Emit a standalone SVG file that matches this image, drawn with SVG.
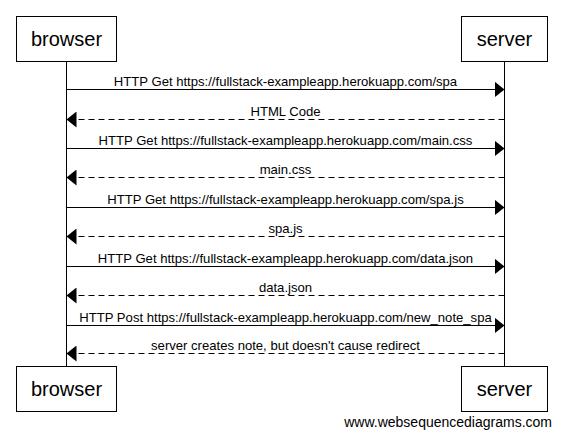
<svg xmlns="http://www.w3.org/2000/svg" width="562" height="436" viewBox="0 0 562 436">
<style>
.box{fill:#fff;stroke:#000;stroke-width:1}
.pt{font-family:"Liberation Sans",Arial,sans-serif;font-size:20px;text-anchor:middle;fill:#000}
.life{stroke:#000;stroke-width:1}
.msg{stroke:#000;stroke-width:1;fill:none}
.ret{stroke:#000;stroke-width:1;fill:none;stroke-dasharray:6 4}
.lbl{font-family:"Liberation Sans",Arial,sans-serif;font-size:13.1px;text-anchor:middle;fill:#000}
.foot{font-family:"Liberation Sans",Arial,sans-serif;font-size:14px;text-anchor:end;fill:#000}
</style>
<defs>
<marker id="ah" markerUnits="userSpaceOnUse" markerWidth="11" markerHeight="16" refX="10" refY="8" orient="auto">
<path d="M0,0 L10,8 L0,16 Z" fill="#000"/>
</marker>
</defs>
<rect width="562" height="436" fill="#fff"/>
<g id="lifelines">
<line class="life" x1="66.5" y1="61" x2="66.5" y2="367"/>
<line class="life" x1="504.5" y1="61" x2="504.5" y2="367"/>
</g>
<g id="browser">
<rect class="box" x="16.5" y="16.5" width="100" height="45"/>
<text class="pt" x="66.5" y="46">browser</text>
</g>
<g id="server">
<rect class="box" x="461.5" y="16.5" width="86" height="45"/>
<text class="pt" x="504.5" y="46">server</text>
</g>
<g id="browser-bottom">
<rect class="box" x="16.5" y="366.5" width="100" height="45"/>
<text class="pt" x="66.5" y="396">browser</text>
</g>
<g id="server-bottom">
<rect class="box" x="461.5" y="366.5" width="86" height="45"/>
<text class="pt" x="504.5" y="396">server</text>
</g>
<g id="connectors">
<line class="msg" x1="66.5" y1="89.5" x2="504.5" y2="89.5" marker-end="url(#ah)"/>
<text class="lbl" x="285.5" y="85.5">HTTP Get https://fullstack-exampleapp.herokuapp.com/spa</text>
<line class="ret" x1="504.5" y1="119.5" x2="66.5" y2="119.5" marker-end="url(#ah)"/>
<text class="lbl" x="285.5" y="115.5">HTML Code</text>
<line class="msg" x1="66.5" y1="148.5" x2="504.5" y2="148.5" marker-end="url(#ah)"/>
<text class="lbl" x="285.5" y="144.5">HTTP Get https://fullstack-exampleapp.herokuapp.com/main.css</text>
<line class="ret" x1="504.5" y1="177.5" x2="66.5" y2="177.5" marker-end="url(#ah)"/>
<text class="lbl" x="285.5" y="173.5">main.css</text>
<line class="msg" x1="66.5" y1="207.5" x2="504.5" y2="207.5" marker-end="url(#ah)"/>
<text class="lbl" x="285.5" y="203.5">HTTP Get https://fullstack-exampleapp.herokuapp.com/spa.js</text>
<line class="ret" x1="504.5" y1="236.5" x2="66.5" y2="236.5" marker-end="url(#ah)"/>
<text class="lbl" x="285.5" y="232.5">spa.js</text>
<line class="msg" x1="66.5" y1="266.5" x2="504.5" y2="266.5" marker-end="url(#ah)"/>
<text class="lbl" x="285.5" y="262.5">HTTP Get https://fullstack-exampleapp.herokuapp.com/data.json</text>
<line class="ret" x1="504.5" y1="295.5" x2="66.5" y2="295.5" marker-end="url(#ah)"/>
<text class="lbl" x="285.5" y="291.5">data.json</text>
<line class="msg" x1="66.5" y1="325.5" x2="504.5" y2="325.5" marker-end="url(#ah)"/>
<text class="lbl" x="285.5" y="321.5">HTTP Post https://fullstack-exampleapp.herokuapp.com/new_note_spa</text>
<line class="ret" x1="504.5" y1="353.5" x2="66.5" y2="353.5" marker-end="url(#ah)"/>
<text class="lbl" x="285.5" y="349.5">server creates note, but doesn't cause redirect</text>
</g>
<text class="foot" x="552" y="427">www.websequencediagrams.com</text>
</svg>
